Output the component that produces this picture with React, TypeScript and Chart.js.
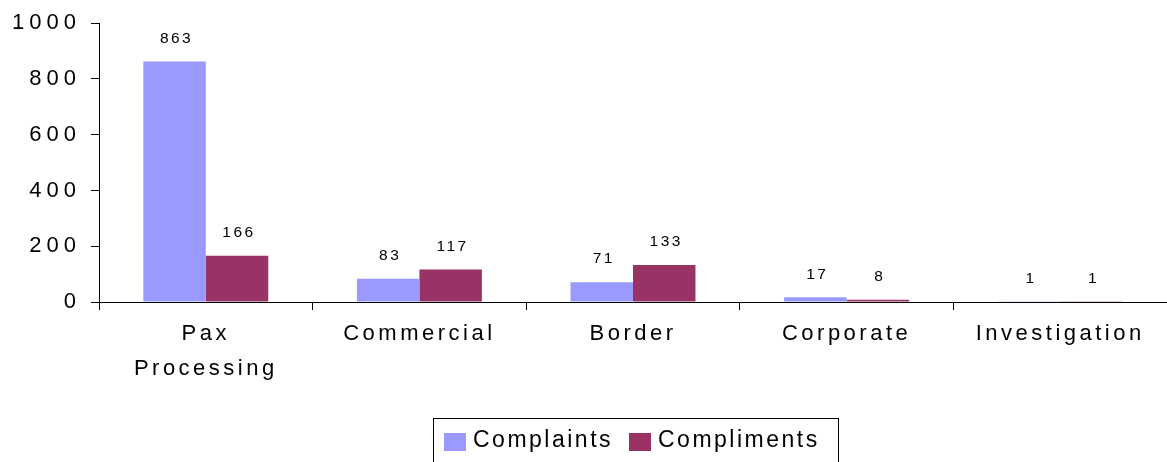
import React, { useEffect, useRef } from "react";
import { Chart, registerables } from "chart.js";

Chart.register(...registerables);

const categories: (string | string[])[] = [["Pax", "Processing"], "Commercial", "Border", "Corporate", "Investigation"];
const complaints = [863, 83, 71, 17, 1];
const compliments = [166, 117, 133, 8, 1];
const seriesNames = ["Complaints", "Compliments"];
const seriesColors = ["#9999FF", "#993366"];
const yTicks = [0, 200, 400, 600, 800, 1000];

const FONT = "'Liberation Sans', Arial, sans-serif";

const labelsPlugin = {
  id: "dataLabels",
  afterDatasetsDraw(chart: any) {
    const ctx = chart.ctx;
    ctx.save();
    ctx.letterSpacing = "2.5px";
    ctx.font = `15.5px ${FONT}`;
    ctx.fillStyle = "#000";
    ctx.textAlign = "center";
    ctx.textBaseline = "middle";
    chart.data.datasets.forEach((ds: any, i: number) => {
      const meta = chart.getDatasetMeta(i);
      meta.data.forEach((bar: any, j: number) => {
        ctx.fillText(String(ds.data[j]), bar.x + 2, bar.y - 23);
      });
    });
    ctx.restore();
  },
};

const legendPlugin = {
  id: "customLegend",
  afterDraw(chart: any) {
    const ctx = chart.ctx;
    ctx.save();
    ctx.letterSpacing = "2.5px";
    ctx.strokeStyle = "#000";
    ctx.lineWidth = 1;
    ctx.strokeRect(433.5, 418.5, 405, 60);
    ctx.font = `23px ${FONT}`;
    ctx.textBaseline = "middle";
    ctx.textAlign = "left";
    const xs = [444, 629];
    seriesNames.forEach((name, i) => {
      ctx.fillStyle = seriesColors[i];
      ctx.fillRect(xs[i], 433, 22, 18);
      ctx.fillStyle = "#000";
      ctx.fillText(name, xs[i] + 29, 441);
    });
    ctx.restore();
  },
};

const spacingPlugin = {
  id: "spacing",
  beforeLayout(chart: any) {
    chart.ctx.letterSpacing = "3.5px";
  },
  beforeDraw(chart: any) {
    chart.ctx.letterSpacing = "3.5px";
  },
};

export default function App() {
  const ref = useRef<HTMLCanvasElement | null>(null);
  useEffect(() => {
    if (!ref.current) return;
    const chart = new Chart(ref.current, {
      type: "bar",
      data: {
        labels: categories,
        datasets: [
          { label: seriesNames[0], data: complaints, backgroundColor: seriesColors[0], categoryPercentage: 0.585, barPercentage: 1 },
          { label: seriesNames[1], data: compliments, backgroundColor: seriesColors[1], categoryPercentage: 0.585, barPercentage: 1 },
        ],
      },
      options: {
        animation: false,
        responsive: false,
        layout: { padding: { top: 20, left: 0, right: 0, bottom: 0 } },
        plugins: { legend: { display: false }, tooltip: { enabled: false } },
        scales: {
          x: {
            offset: true,
            grid: { display: true, drawOnChartArea: false, offset: true, color: "#000", tickLength: 8, tickColor: "#000" },
            border: { color: "#000", width: 1 },
            ticks: { color: "#000", font: { family: FONT, size: 22, lineHeight: 1.58 }, padding: 7, maxRotation: 0, autoSkip: false },
            afterFit(scale: any) { scale.height = 160; },
          },
          y: {
            min: 0,
            max: 1000,
            afterBuildTicks(scale: any) { scale.ticks = yTicks.map((v) => ({ value: v })); },
            grid: { display: true, drawOnChartArea: false, color: "#000", tickLength: 8, tickColor: "#000" },
            border: { color: "#000", width: 1 },
            ticks: {
              color: "#000",
              font: { family: FONT, size: 22 },
              padding: 10,
              callback: (v: any) => String(v),
            },
            afterFit(scale: any) { scale.width = 99; },
          },
        },
      },
      plugins: [spacingPlugin, labelsPlugin, legendPlugin],
    });
    const yScale: any = chart.scales.y;
    const origDraw = yScale.drawLabels.bind(yScale);
    yScale.drawLabels = (area: any) => {
      const prev = chart.ctx.letterSpacing;
      chart.ctx.letterSpacing = "5px";
      origDraw(area);
      chart.ctx.letterSpacing = prev;
    };
    chart.draw();
    return () => chart.destroy();
  }, []);
  return (
    <div style={{ position: "absolute", left: 0, top: 0, width: 1167, height: 462, background: "#fff" }}>
      <canvas ref={ref} width={1167} height={462} style={{ width: 1167, height: 462 }} />
    </div>
  );
}
